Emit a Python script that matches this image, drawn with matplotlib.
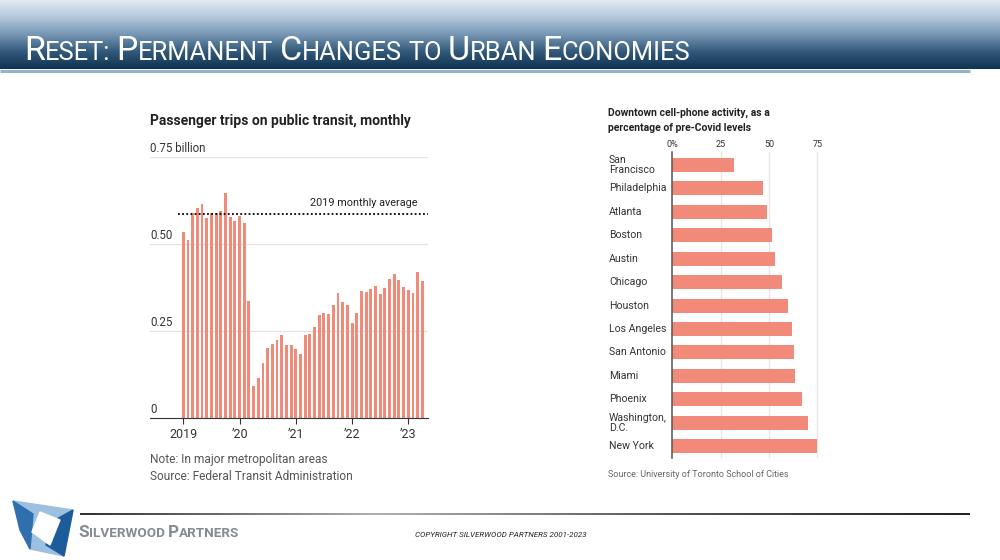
import numpy as np
import matplotlib
matplotlib.use('Agg')
import matplotlib.pyplot as plt
from matplotlib.colors import LinearSegmentedColormap
from matplotlib.patches import Polygon
import matplotlib.transforms as mtransforms

# monthly passenger trips (billions), Jan 2019 - Apr 2023
trips = [0.535, 0.511, 0.588, 0.603, 0.615, 0.574, 0.588, 0.588, 0.595, 0.646, 0.578, 0.567,
         0.580, 0.559, 0.337, 0.092, 0.114, 0.159, 0.202, 0.213, 0.223, 0.239, 0.210, 0.210,
         0.198, 0.183, 0.239, 0.241, 0.262, 0.295, 0.303, 0.300, 0.325, 0.358, 0.334, 0.325,
         0.274, 0.303, 0.366, 0.361, 0.371, 0.379, 0.356, 0.374, 0.398, 0.414, 0.396, 0.377,
         0.367, 0.358, 0.420, 0.394]
avg_2019 = 0.585
year_ticks = [0, 12, 24, 36, 48]
year_labels = ['2019', '\u201920', '\u201921', '\u201922', '\u201923']
y_grid = [0.25, 0.50, 0.75]
y_grid_labels = ['0.25', '0.50', '0.75 billion']

cities = ['San\nFrancisco', 'Philadelphia', 'Atlanta', 'Boston', 'Austin', 'Chicago', 'Houston',
          'Los Angeles', 'San Antonio', 'Miami', 'Phoenix', 'Washington,\nD.C.', 'New York']
activity = [32, 46.8, 48.9, 51.8, 53, 56.7, 60, 61.7, 62.9, 63.7, 66.9, 70, 74.6]
pct_ticks = [0, 25, 50, 75]
pct_labels = ['0%', '25', '50', '75']

BAR = '#f28a7a'
SANS = ['Roboto', 'DejaVu Sans']

fig = plt.figure(figsize=(10, 5.6), dpi=100)
deco = fig.add_axes([0, 0, 1, 1], zorder=-1)
deco.axis('off')

# header banner
cmap = LinearSegmentedColormap.from_list('hdr', ['#e2eaf2', '#b3c7da', '#7696b3', '#33597a', '#0f3352'])
deco.imshow(np.linspace(0, 1, 100)[:, None], extent=[0, 1000, 69, 0], aspect='auto', cmap=cmap)
deco.plot([0, 970], [70.5, 70.5], color='#93b2d2', lw=2.2, solid_capstyle='butt')

# footer rule
fcmap = LinearSegmentedColormap.from_list('ftr', ['#333333', '#b0b0b0', '#555555', '#222222'])
deco.imshow(np.linspace(0, 1, 200)[None, :], extent=[80, 970, 515, 513], aspect='auto', cmap=fcmap)
deco.set_xlim(0, 1000)
deco.set_ylim(560, 0)

renderer = fig.canvas.get_renderer()


def small_caps(x, y, text, big, small, **kw):
    for word in text.split(' '):
        first, rest = word[0], word[1:]
        if first.isupper():
            t = deco.text(x, y, first, fontsize=big, va='baseline', **kw)
        else:
            t = deco.text(x, y, first.upper(), fontsize=small, va='baseline', **kw)
        x = t.get_window_extent(renderer).x1
        if rest:
            t = deco.text(x, y, rest.upper(), fontsize=small, va='baseline', **kw)
            x = t.get_window_extent(renderer).x1
        x += small * 0.35


small_caps(24, 60, 'Reset: Permanent Changes to Urban Economies', 24.5, 18.4,
           color='white', family=SANS)

# logo
deco.add_patch(Polygon([(13, 501), (73, 510), (64, 556), (30, 549)], closed=True, color='#9dbfe0'))
deco.add_patch(Polygon([(13, 501), (33, 514), (30, 549), (20, 530)], closed=True, color='#2f6fad'))
deco.add_patch(Polygon([(55, 520), (73, 510), (64, 556), (46, 545)], closed=True, color='#1c5c9a'))
deco.add_patch(Polygon([(40, 512), (60, 520), (50, 545), (32, 532)], closed=True, color='white'))
small_caps(78, 537, 'Silverwood Partners', 12.3, 9.7, color='#858a93', family=SANS, weight='bold')
deco.text(415, 537, 'COPYRIGHT SILVERWOOD PARTNERS 2001-2023', fontsize=5.8, style='italic',
          family=SANS, color='#222222', va='baseline')

# left chart: transit trips
ax1 = fig.add_axes([0.15, 1 - 418 / 560, 0.278, (418 - 157) / 560])
ax1.bar(np.arange(len(trips)), trips, width=0.62, color=BAR, zorder=2)
ax1.set_xlim(-7.1, 52.2)
ax1.set_ylim(0, 0.75)
for v, lab in zip(y_grid, y_grid_labels):
    ax1.axhline(v, color='#e3e3e3', lw=0.9, zorder=0)
    ax1.text(-7.1, v + 0.007, lab, fontsize=8.3, family=SANS, color='#333333', va='bottom', ha='left')
ax1.text(-7.1, 0.007, '0', fontsize=8.3, family=SANS, color='#333333', va='bottom', ha='left')
ax1.plot([-1.1, 52.2], [avg_2019, avg_2019], color='black', lw=1.3, ls=(0, (1, 1.3)), zorder=3)
ax1.text(50.0, avg_2019 + 0.018, '2019 monthly average', fontsize=7.8, family=SANS,
         color='#222222', ha='right', va='bottom')
for s in ['top', 'right', 'left']:
    ax1.spines[s].set_visible(False)
ax1.spines['bottom'].set_color('#333333')
ax1.set_yticks([])
ax1.set_xticks(year_ticks)
ax1.set_xticklabels(year_labels, family=SANS, fontsize=9, color='#333333')
ax1.tick_params(axis='x', length=4, color='#333333', pad=3)

deco.text(150, 125, 'Passenger trips on public transit, monthly', fontsize=10, weight='bold',
          family=SANS, color='#222222', va='baseline')
deco.text(150, 463, 'Note: In major metropolitan areas', fontsize=8.6, family=SANS,
          color='#555555', va='baseline')
deco.text(150, 480, 'Source: Federal Transit Administration', fontsize=8.6, family=SANS,
          color='#555555', va='baseline')

# right chart: cell-phone activity
ax2 = fig.add_axes([0.6723, 1 - 458 / 560, 0.15, (458 - 152) / 560])
ypos = np.arange(len(cities))
ax2.barh(ypos, activity, height=0.6, color=BAR, zorder=2)
ax2.set_xlim(0, 77.6)
ax2.set_ylim(len(cities) - 0.49, -0.555)
for v in pct_ticks[1:]:
    ax2.axvline(v, color='#e6e6e6', lw=0.9, zorder=0)
for s in ['top', 'right', 'bottom']:
    ax2.spines[s].set_visible(False)
ax2.spines['left'].set_color('#555555')
ax2.spines['left'].set_linewidth(1.1)
ax2.set_yticks([])
ax2.xaxis.tick_top()
ax2.set_xticks(pct_ticks)
ax2.set_xticklabels(pct_labels, family=SANS, fontsize=6.5, color='#333333')
ax2.tick_params(axis='x', length=0, pad=2)
lab_tr = mtransforms.blended_transform_factory(fig.transFigure, ax2.transData)
for y, c in zip(ypos, cities):
    ax2.text(0.609, y, c, transform=lab_tr, fontsize=7.6, family=SANS, color='#333333',
             ha='left', va='center', linespacing=1.0)

deco.text(608, 116, 'Downtown cell-phone activity, as a', fontsize=7.5, weight='bold',
          family=SANS, color='#222222', va='baseline')
deco.text(608, 131, 'percentage of pre-Covid levels', fontsize=7.5, weight='bold',
          family=SANS, color='#222222', va='baseline')
deco.text(608, 477, 'Source: University of Toronto School of Cities', fontsize=6.5, family=SANS,
          color='#666666', va='baseline')

fig.savefig('out.png', dpi=100)
